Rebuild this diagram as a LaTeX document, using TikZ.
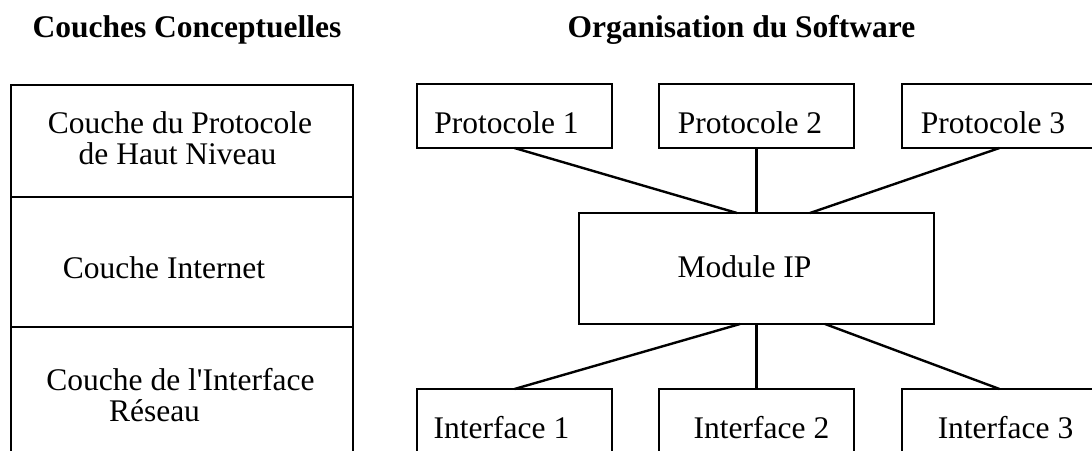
\documentclass[tikz,border=0pt]{standalone}
\usepackage{fontspec}
\setmainfont{Liberation Serif}[Ligatures=TeXOff]
\begin{document}
\begin{tikzpicture}[x=1pt,y=-1pt,
  every node/.style={inner sep=0pt,outer sep=0pt},
  box/.style={draw,line width=2.4pt,rectangle},
  layer/.style={box,minimum width=342pt},
  small/.style={box,minimum width=195pt},
  txt/.style={anchor=base,font=\fontsize{31.5}{36}\selectfont},
  head/.style={txt,font=\fontsize{31.5}{36}\selectfont\bfseries},
  link/.style={line width=2.4pt}]
\path[use as bounding box,clip] (0,0) rectangle (1092,450);
\fill[white] (0,0) rectangle (1092,450);

% headings
\node[head] (h1) at (187,37) {Couches Conceptuelles};
\node[head] (h2) at (741.5,37) {Organisation du Software};

% conceptual layers
\node[layer,minimum height=112pt] (l1) at (182,141) {};
\node[layer,minimum height=130pt] (l2) at (182,262) {};
\node[layer,minimum height=153pt] (l3) at (182,403.5) {};
\node[txt] (t1a) at (180,133) {Couche du Protocole};
\node[txt] (t1b) at (177.5,164) {de Haut Niveau};
\node[txt] (t2) at (164,278) {Couche Internet};
\node[txt] (t3a) at (180.5,390) {Couche de l'Interface};
\node[txt] (t3b) at (154.5,421) {Réseau};

% software organisation
\node[small,minimum height=64pt] (p1) at (514.5,116) {};
\node[small,minimum height=64pt] (p2) at (756.5,116) {};
\node[small,minimum height=64pt] (p3) at (999.5,116) {};
\node[box,minimum width=355pt,minimum height=111pt] (ip) at (756.5,268.5) {};
\node[small,minimum height=91pt] (i1) at (514.5,434.5) {};
\node[small,minimum height=91pt] (i2) at (756.5,434.5) {};
\node[small,minimum height=91pt] (i3) at (999.5,434.5) {};

\node[txt] (tp1) at (506.5,133) {Protocole 1};
\node[txt] (tp2) at (750,133) {Protocole 2};
\node[txt] (tp3) at (993,133) {Protocole 3};
\node[txt] (tip) at (744.5,277) {Module IP};
\node[txt] (ti1) at (501.5,438) {Interface 1};
\node[txt] (ti2) at (761.5,438) {Interface 2};
\node[txt] (ti3) at (1005.5,438) {Interface 3};

% connections
\draw[link] (p1.south) -- ([xshift=-19.5pt]ip.north);
\draw[link] (p2.south) -- (ip.north);
\draw[link] (p3.south) -- ([xshift=53.5pt]ip.north);
\draw[link] ([xshift=-16.5pt]ip.south) -- (i1.north);
\draw[link] (ip.south) -- (i2.north);
\draw[link] ([xshift=68.5pt]ip.south) -- (i3.north);
\end{tikzpicture}
\end{document}
